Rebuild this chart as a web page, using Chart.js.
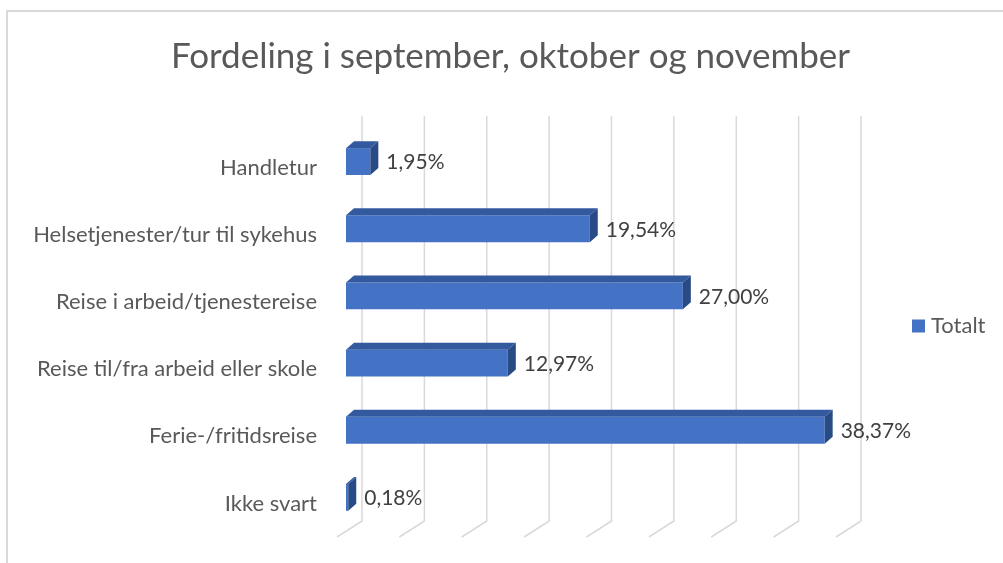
<!DOCTYPE html>
<html><head><meta charset="utf-8">
<script src="https://cdn.jsdelivr.net/npm/chart.js@4.4.1/dist/chart.umd.min.js"></script>
<style>
html,body{margin:0;padding:0;background:#fff;overflow:hidden;width:1003px;height:563px;}
#frame{position:absolute;left:6px;top:10px;width:1100px;height:700px;border-left:2px solid #d9d9d9;border-top:2px solid #d9d9d9;}
#wrap{position:absolute;left:0;top:0;width:1003px;height:563px;}
</style></head><body>
<div id="frame"></div>
<div id="wrap"><canvas id="c" width="1003" height="563"></canvas></div>
<script>
const titleText = 'Fordeling i september, oktober og november';
const categories = ['Handletur', 'Helsetjenester/tur til sykehus', 'Reise i arbeid/tjenestereise', 'Reise til/fra arbeid eller skole', 'Ferie-/fritidsreise', 'Ikke svart'];
const seriesName = 'Totalt';
const values = [1.95, 19.54, 27.00, 12.97, 38.37, 0.18];
const axisMin = 0, axisMax = 40, axisStep = 5;

const FONT = 'Lato';
const FRONT = '#4472C4', TOP = '#33599E', SIDE = '#284A85';
const DX = 8, DY = -7;

const fmt = v => v.toFixed(2).replace('.', ',') + '%';

const gridPlugin = {
  id: 'grid3d',
  beforeDatasetsDraw(chart) {
    const ctx = chart.ctx, x = chart.scales.x, a = chart.chartArea;
    const ticks = x.ticks.map(t => t.value);
    ctx.save();
    ctx.strokeStyle = '#d9d9d9';
    ctx.lineWidth = 1.5;
    ticks.forEach(v => {
      const px = x.getPixelForValue(v);
      ctx.beginPath();
      ctx.moveTo(px + 16, a.top - 12);
      ctx.lineTo(px + 16, a.bottom - 10);
      ctx.lineTo(px - 9, a.bottom + 6);
      ctx.stroke();
    });
    ctx.restore();
  }
};

const bar3dPlugin = {
  id: 'bar3d',
  afterDatasetsDraw(chart) {
    const ctx = chart.ctx;
    const meta = chart.getDatasetMeta(0);
    ctx.save();
    meta.data.forEach((bar, i) => {
      const p = bar.getProps(['x', 'y', 'base', 'height'], true);
      const top = p.y - p.height / 2, bottom = p.y + p.height / 2;
      ctx.fillStyle = TOP;
      ctx.beginPath();
      ctx.moveTo(p.base, top);
      ctx.lineTo(p.base + DX, top + DY);
      ctx.lineTo(p.x + DX, top + DY);
      ctx.lineTo(p.x, top);
      ctx.closePath();
      ctx.fill();
      ctx.fillStyle = SIDE;
      ctx.beginPath();
      ctx.moveTo(p.x, top);
      ctx.lineTo(p.x + DX, top + DY);
      ctx.lineTo(p.x + DX, bottom + DY);
      ctx.lineTo(p.x, bottom);
      ctx.closePath();
      ctx.fill();
      // data label
      ctx.fillStyle = '#404040';
      ctx.font = '21px ' + FONT;
      ctx.textAlign = 'left';
      ctx.textBaseline = 'middle';
      ctx.fillText(fmt(chart.data.datasets[0].data[i]), p.x + 16, p.y + 1);
    });
    ctx.restore();
  }
};

const legendPlugin = {
  id: 'legendRight',
  afterDraw(chart) {
    const ctx = chart.ctx, a = chart.chartArea;
    const lx = a.right + 67, ly = 326;
    ctx.save();
    ctx.fillStyle = FRONT;
    ctx.fillRect(lx, ly - 6.5, 13, 13);
    ctx.fillStyle = '#595959';
    ctx.font = '22px ' + FONT;
    ctx.textAlign = 'left';
    ctx.textBaseline = 'middle';
    ctx.fillText(chart.data.datasets[0].label, lx + 19, ly);
    ctx.restore();
  }
};

new Chart(document.getElementById('c'), {
  type: 'bar',
  data: {
    labels: categories,
    datasets: [{
      label: seriesName,
      data: values,
      backgroundColor: FRONT,
      borderWidth: 0,
      categoryPercentage: 1,
      barPercentage: 0.4
    }]
  },
  options: {
    indexAxis: 'y',
    responsive: false,
    devicePixelRatio: 1,
    animation: false,
    layout: { padding: { left: 18, right: 0, top: 0, bottom: 32 } },
    plugins: {
      legend: { display: false },
      tooltip: { enabled: false },
      title: {
        display: true,
        text: titleText,
        color: '#595959',
        font: { family: FONT, size: 35, weight: 'normal' },
        padding: { top: 36, bottom: 50 }
      }
    },
    scales: {
      x: {
        type: 'linear', display: false,
        min: axisMin, max: axisMax,
        ticks: { stepSize: axisStep }
      },
      y: {
        type: 'category',
        grid: { display: false, drawTicks: false, tickLength: 0 },
        border: { display: false },
        ticks: { color: '#595959', font: { family: FONT, size: 22 }, padding: 29, labelOffset: 6 },
        afterFit(s) { s.width = 328; s.paddingTop = 0; s.paddingBottom = 0; }
      },
      yr: {
        type: 'linear', position: 'right', display: true,
        grid: { display: false, drawTicks: false },
        border: { display: false },
        ticks: { display: false },
        afterFit(s) { s.width = 158; s.paddingTop = 0; s.paddingBottom = 0; }
      }
    }
  },
  plugins: [gridPlugin, bar3dPlugin, legendPlugin]
});
</script>
</body></html>
